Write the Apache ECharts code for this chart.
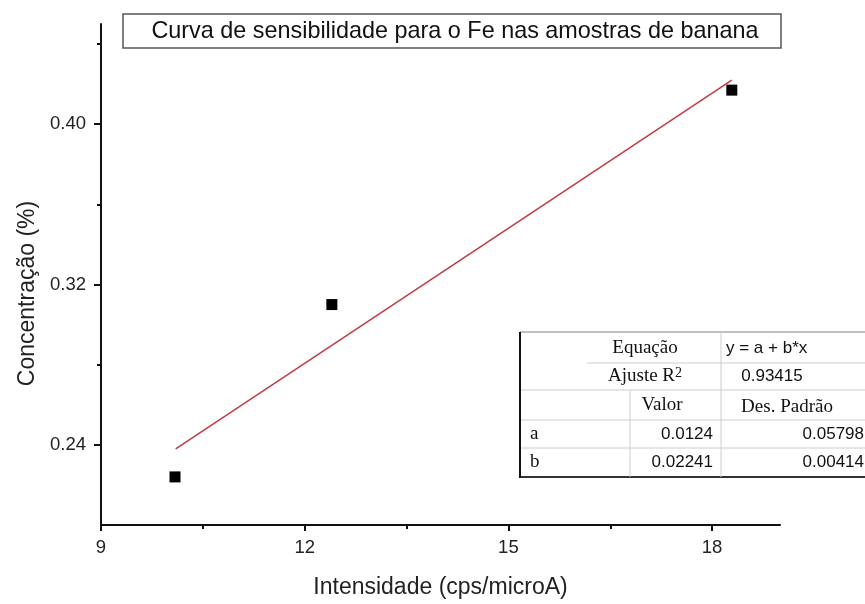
<!DOCTYPE html>
<html>
<head>
<meta charset="utf-8">
<script src="https://cdn.jsdelivr.net/npm/echarts@6/dist/echarts.min.js"></script>
<style>
html,body{margin:0;padding:0;background:#fff;}
#chart{width:865px;height:604px;}
</style>
</head>
<body>
<div id="chart"></div>
<script>
// ---- data ----
const titleText = 'Curva de sensibilidade para o Fe nas amostras de banana';
const xName = 'Intensidade (cps/microA)';
const yName = 'Concentração (%)';
const pointsX = [10.09, 12.40, 18.29];
const pointsY = [0.224, 0.310, 0.417];
const fitX = [10.10, 18.29];
const fitY = [0.238, 0.422];
const xTicks = [9, 12, 15, 18];
const xMinorTicks = [10.5, 13.5, 16.5];
const yTicks = [0.24, 0.32, 0.40];
const yMinorTicks = [0.28, 0.36, 0.44];
const tableHeader = ['Equação', 'y = a + b*x'];
const tableR2 = ['Ajuste R{s|2}', '0.93415'];
const tableColHeads = ['Valor', 'Des. Padrão'];
const paramNames = ['a', 'b'];
const paramValues = ['0.0124', '0.02241'];
const paramErrors = ['0.05798', '0.00414'];

const chart = echarts.init(document.getElementById('chart'));
const SANS = 'Liberation Sans, Arial, sans-serif';
const SERIF = 'Liberation Serif, Times New Roman, serif';

const axisCommon = {
  type: 'value',
  splitLine: {show: false},
  axisLine: {show: true, onZero: false, lineStyle: {color: '#111', width: 2}},
};

// table graphics
const tl = 520, tr = 866;
const rowY = [332, 363, 390, 420, 448, 477];
const colA = 630, colB = 721;
function hline(x1, x2, y, color, w) {
  return {type: 'line', shape: {x1: x1, y1: y, x2: x2, y2: y}, style: {stroke: color, lineWidth: w}, silent: true};
}
function vline(x, y1, y2, color, w) {
  return {type: 'line', shape: {x1: x, y1: y1, x2: x, y2: y2}, style: {stroke: color, lineWidth: w}, silent: true};
}
function txt(s, x, y, align, font, size, rich) {
  const st = {text: s, align: align, verticalAlign: 'middle', fontFamily: font, fontSize: size, fill: '#111'};
  if (rich) st.rich = rich;
  return {type: 'text', x: x, y: y, style: st, silent: true};
}
const mid = (i) => (rowY[i] + rowY[i + 1]) / 2;
const supRich = {s: {fontFamily: SERIF, fontSize: 14, fill: '#111', verticalAlign: 'top', padding: [0, 0, 6, 0]}};
const tableGraphics = [
  {type: 'rect', shape: {x: tl, y: rowY[0], width: tr - tl, height: rowY[5] - rowY[0]}, style: {fill: '#fff'}, silent: true},
  hline(tl, tr, rowY[0], '#aaa', 1.5),
  hline(587, tr, rowY[1], '#ccc', 1),
  hline(tl, tr, rowY[2], '#ccc', 1),
  hline(tl, tr, rowY[3], '#ccc', 1),
  hline(tl, tr, rowY[4], '#ccc', 1),
  hline(tl, tr, rowY[5], '#333', 2),
  vline(colB, rowY[0], rowY[5], '#ccc', 1),
  vline(colA, rowY[2], rowY[5], '#ccc', 1),
  vline(tl, rowY[0], rowY[5] + 1, '#111', 2),
  txt(tableHeader[0], 645, mid(0) + 1, 'center', SERIF, 19),
  txt(tableHeader[1], 726, mid(0) + 1, 'left', SANS, 17),
  txt(tableR2[0], 645, mid(1), 'center', SERIF, 19, supRich),
  txt(tableR2[1], 772, mid(1), 'center', SANS, 17),
  txt(tableColHeads[0], 662, mid(2), 'center', SERIF, 19),
  txt(tableColHeads[1], 787, mid(2) + 2, 'center', SERIF, 19),
];
paramNames.forEach((n, i) => {
  tableGraphics.push(txt(n, 530, mid(3 + i), 'left', SERIF, 19));
  tableGraphics.push(txt(paramValues[i], 713, mid(3 + i), 'right', SANS, 17));
  tableGraphics.push(txt(paramErrors[i], 864, mid(3 + i), 'right', SANS, 17));
});

const option = {
  backgroundColor: '#fff',
  animation: false,
  grid: {left: 101, right: 85, top: 24, bottom: 74, containLabel: false},
  xAxis: [
    Object.assign({}, axisCommon, {
      min: 9, max: 19, position: 'bottom',
      name: xName, nameLocation: 'middle', nameGap: 51,
      nameTextStyle: {fontFamily: SANS, fontSize: 23, color: '#222'},
      axisTick: {show: true, inside: false, length: 6, customValues: xTicks, lineStyle: {color: '#111', width: 2}},
      axisLabel: {show: true, customValues: xTicks, margin: 13, fontFamily: SANS, fontSize: 18.5, color: '#222'}
    }),
    Object.assign({}, axisCommon, {
      min: 9, max: 19, position: 'bottom',
      axisLine: {show: false},
      axisTick: {show: true, inside: false, length: 4, customValues: xMinorTicks, lineStyle: {color: '#111', width: 2}},
      axisLabel: {show: false}
    })
  ],
  yAxis: [
    Object.assign({}, axisCommon, {
      min: 0.20, max: 0.45, position: 'left',
      name: yName, nameLocation: 'middle', nameGap: 62, nameRotate: 90,
      nameTextStyle: {fontFamily: SANS, fontSize: 23, color: '#222', padding: [0, 38, 0, 0]},
      axisTick: {show: true, inside: false, length: 7, customValues: yTicks, lineStyle: {color: '#111', width: 2}},
      axisLabel: {show: true, customValues: yTicks, margin: 15, fontFamily: SANS, fontSize: 18.5, color: '#222',
        formatter: (v) => v.toFixed(2)}
    }),
    Object.assign({}, axisCommon, {
      min: 0.20, max: 0.45, position: 'left',
      axisLine: {show: false},
      axisTick: {show: true, inside: false, length: 4, customValues: yMinorTicks, lineStyle: {color: '#111', width: 2}},
      axisLabel: {show: false}
    })
  ],
  series: [
    {
      type: 'line',
      xAxisIndex: 0, yAxisIndex: 0,
      data: fitX.map((x, i) => [x, fitY[i]]),
      showSymbol: false, symbol: 'none',
      lineStyle: {color: '#c23a40', width: 1.5},
      z: 2
    },
    {
      type: 'scatter',
      xAxisIndex: 0, yAxisIndex: 0,
      data: pointsX.map((x, i) => [x, pointsY[i]]),
      symbol: 'rect', symbolSize: 11,
      itemStyle: {color: '#000', opacity: 1},
      z: 3
    }
  ],
  graphic: [
    {type: 'rect', shape: {x: 123, y: 14, width: 658, height: 34}, style: {fill: '#fff', stroke: '#555', lineWidth: 1.5}, silent: true},
    {type: 'text', x: 455, y: 32, style: {text: titleText, align: 'center', verticalAlign: 'middle', fontFamily: SANS, fontSize: 23.4, fill: '#111'}, silent: true}
  ].concat(tableGraphics)
};
chart.setOption(option);
</script>
</body>
</html>
